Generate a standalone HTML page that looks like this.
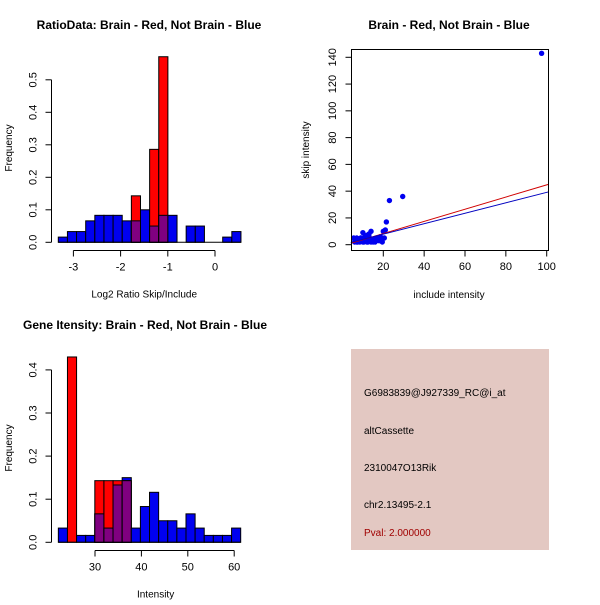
<!DOCTYPE html>
<html><head><meta charset="utf-8"><style>
body{margin:0;background:#fff}
svg text{font-family:"Liberation Sans",sans-serif;fill:#000}
</style></head><body>
<svg id="s" width="600" height="600" xmlns="http://www.w3.org/2000/svg">
<rect width="600" height="600" fill="#fff"/>
<text x="149" y="29" font-size="12" font-weight="bold" text-anchor="middle">RatioData: Brain - Red, Not Brain - Blue</text>
<text x="449" y="29" font-size="12" font-weight="bold" text-anchor="middle">Brain - Red, Not Brain - Blue</text>
<text x="145" y="329" font-size="12" font-weight="bold" text-anchor="middle">Gene Itensity: Brain - Red, Not Brain - Blue</text>
<g id="p1"></g>
<g id="p2"></g>
<g id="p3"></g>
<g>
<rect x="351" y="349" width="198" height="201" fill="#e3c8c2"/>
<text x="364" y="396" font-size="10">G6983839@J927339_RC@i_at</text>
<text x="364" y="434" font-size="10">altCassette</text>
<text x="364" y="471" font-size="10">2310047O13Rik</text>
<text x="364" y="508" font-size="10">chr2.13495-2.1</text>
<text x="364" y="536" font-size="10" style="fill:#a00000">Pval: 2.000000</text>
</g>
</svg>
<script>
const NS="http://www.w3.org/2000/svg";
// Ratio histogram data
const ratioStart=-3.32, ratioWidth=0.1935;
const ratioBlue=[0.016,0.033,0.033,0.066,0.083,0.083,0.083,0.066,0.066,0.1,0.05,0.083,0.083,0,0.05,0.05,0,0,0.016,0.033];
const ratioRed=[0,0,0,0,0,0,0,0,0.143,0,0.286,0.571,0,0,0,0,0,0,0,0];
const ratioXTicks=[-3,-2,-1,0];
const ratioYTicks=[0,0.1,0.2,0.3,0.4,0.5];
// Intensity histogram data
const intStart=22.1, intWidth=1.965;
const intBlue=[0.033,0,0.016,0.016,0.066,0.033,0.133,0.15,0.033,0.083,0.116,0.05,0.05,0.033,0.066,0.033,0.016,0.016,0.016,0.033];
const intRed=[0,0.43,0,0,0.143,0.143,0.143,0.143,0,0,0,0,0,0,0,0,0,0,0,0];
const intXTicks=[30,40,50,60];
const intYTicks=[0,0.1,0.2,0.3,0.4];
// Scatter data
const scX=[97.5,23,29.5,21.5,21,20,19.5,19.5,14,10,12,13,11,9,8,7,6,6.5,7.5,8.5,9.5,10.5,11.5,12.5,13.5,14.5,15.5,16.5,17.5,18.5,15,16,12,10,8,7,9,11,13,17,18,20.5,6,5.5,14,16,11,9];
const scY=[143,33,36,17,11,10,2,5,10,9,7,8,6,5,4,5,4,3,2,2,3,2,3,2,4,3,4,5,5,6,2,3,2,2,3,2,5,4,6,4,3,5,2,5,2,2,4,3];
const regRed=[0.455,-0.8];
const regBlue=[0.39,0.1];
const scXTicks=[20,40,60,80,100];
const scYTicks=[0,20,40,60,80,100,120,140];

function el(parent,tag,attrs){const e=document.createElementNS(NS,tag);for(const k in attrs)e.setAttribute(k,attrs[k]);parent.appendChild(e);return e;}
function txt(parent,x,y,s,size,rot,anchor){const t=el(parent,'text',{x:x,y:y,'font-size':size,'text-anchor':anchor||'middle'});if(rot)t.setAttribute('transform','rotate(-90 '+x+' '+y+')');t.textContent=s;return t;}

function hist(g,start,w,blue,red,xt,yt,sx,sy,xlab,axY,axX,fy){
  for(let i=0;i<blue.length;i++){
    const a=start+i*w,b=a+w;
    const bl=blue[i],rd=red[i],m=Math.min(bl,rd);
    const x=sx(a),wd=sx(b)-sx(a);
    if(bl>0){const r=el(g,'rect',{x:x,y:sy(bl),width:wd,height:sy(0)-sy(bl),fill:'#0000f0',stroke:'#000','stroke-width':1});
      
      }
    if(rd>0){const r=el(g,'rect',{x:x,y:sy(rd),width:wd,height:sy(0)-sy(rd),fill:'#ff0000',stroke:'#000','stroke-width':1});
      
      }
    if(m>0){const r=el(g,'rect',{x:x,y:sy(m),width:wd,height:sy(0)-sy(m),fill:'#800080',stroke:'#000','stroke-width':1});
      
      }
  }
  el(g,'line',{x1:sx(start),x2:sx(start+w*blue.length),y1:sy(0),y2:sy(0),stroke:'#000'});
  el(g,'line',{x1:sx(xt[0]),x2:sx(xt[xt.length-1]),y1:axY,y2:axY,stroke:'#000'});
  xt.forEach(v=>{el(g,'line',{x1:sx(v),x2:sx(v),y1:axY,y2:axY+6,stroke:'#000'});txt(g,sx(v),axY+20,String(v),11);});
  el(g,'line',{x1:axX,x2:axX,y1:sy(yt[0]),y2:sy(yt[yt.length-1]),stroke:'#000'});
  yt.forEach(v=>{el(g,'line',{x1:axX,x2:axX-6,y1:sy(v),y2:sy(v),stroke:'#000'});txt(g,axX-15,sy(v),v.toFixed(1),11,true);});
  txt(g,(sx(xt[0])+sx(xt[xt.length-1]))/2+(xlab==='Intensity'?-9:0),axY+47,xlab,10);
  txt(g,12,fy,'Frequency',10,true);
}
const p1=document.getElementById('p1');
hist(p1,ratioStart,ratioWidth,ratioBlue,ratioRed,ratioXTicks,ratioYTicks,v=>215+v*47.2,v=>242.3-v*325,'Log2 Ratio Skip/Include',250.5,51.5,148);
const p3=document.getElementById('p3');
hist(p3,intStart,intWidth,intBlue,intRed,intXTicks,intYTicks,v=>95+(v-30)*4.64,v=>542.3-v*431,'Intensity',550.5,51.5,448);

// scatter
const p2=document.getElementById('p2');
const X=v=>383.3+(v-20)*2.0425, Y=v=>244.7-v*1.3386;
const xmin=4.1,xmax=100.8;
for(let i=0;i<scX.length;i++){const c=el(p2,'circle',{cx:X(scX[i]),cy:Y(scY[i]),r:2.7,fill:'#0000f0'});
  
  }
[[regRed,'#d00000','red-fit-line'],[regBlue,'#0000c0','blue-fit-line']].forEach(([r,c,n])=>{
  const l=el(p2,'line',{x1:X(xmin),y1:Y(r[0]*xmin+r[1]),x2:X(xmax),y2:Y(r[0]*xmax+r[1]),stroke:c,'stroke-width':1});
  
  });
el(p2,'rect',{x:351.5,y:49.5,width:197,height:201,fill:'none',stroke:'#000'});
scXTicks.forEach(v=>{el(p2,'line',{x1:X(v),x2:X(v),y1:250.5,y2:256.5,stroke:'#000'});txt(p2,X(v),270,String(v),11);});
scYTicks.forEach(v=>{el(p2,'line',{x1:351.5,x2:345.5,y1:Y(v),y2:Y(v),stroke:'#000'});txt(p2,336,Y(v),String(v),11,true);});
txt(p2,449,298,'include intensity',10);
txt(p2,309,150,'skip intensity',10,true);
</script>
</body></html>
